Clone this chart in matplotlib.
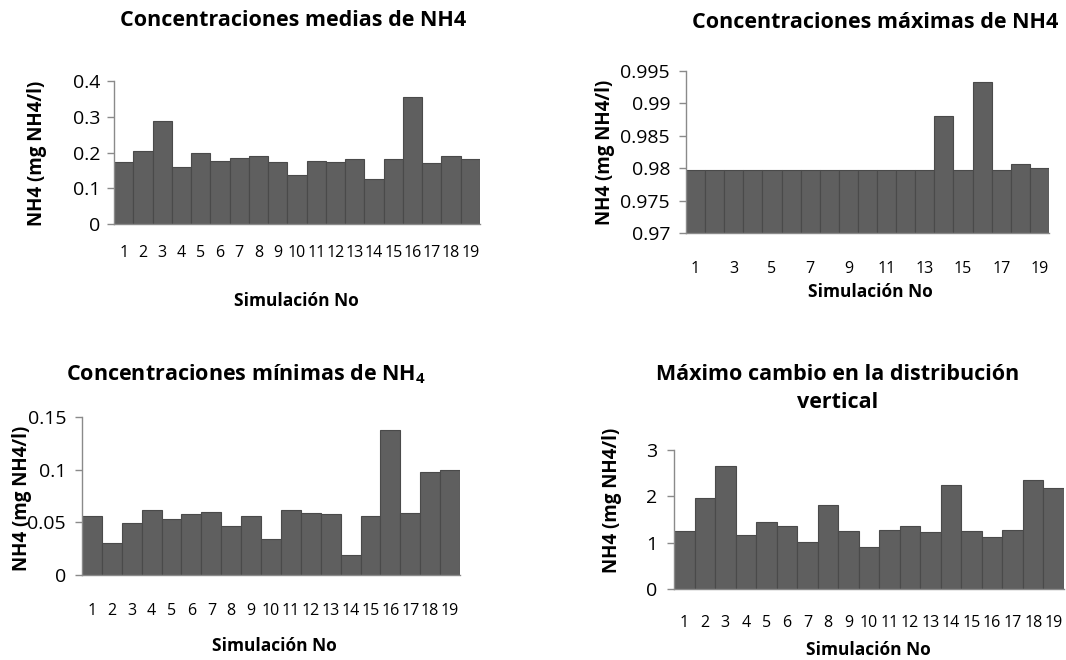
import numpy as np
import matplotlib
matplotlib.use("Agg")
import matplotlib.pyplot as plt
from matplotlib.ticker import FuncFormatter

plt.rcParams['font.family'] = ['Open Sans', 'DejaVu Sans']
plt.rcParams['mathtext.fontset'] = 'custom'
plt.rcParams['mathtext.bf'] = 'Open Sans:bold'
plt.rcParams['mathtext.rm'] = 'Open Sans:bold'

# ------------------------------------------------------------
# data
# ------------------------------------------------------------
sim_no = list(range(1, 20))

nh4_medias = [0.174, 0.204, 0.289, 0.159, 0.199, 0.177, 0.184, 0.191, 0.174, 0.136,
              0.175, 0.174, 0.181, 0.125, 0.181, 0.354, 0.172, 0.191, 0.183]

nh4_maximas = [0.9797, 0.9797, 0.9797, 0.9797, 0.9797, 0.9797, 0.9797, 0.9797, 0.9797, 0.9797,
               0.9797, 0.9797, 0.9797, 0.9881, 0.9797, 0.9933, 0.9797, 0.9807, 0.9801]

nh4_minimas = [0.0556, 0.0306, 0.049, 0.0613, 0.053, 0.0575, 0.0594, 0.0464, 0.0556, 0.0341,
               0.0619, 0.0584, 0.0581, 0.0193, 0.0556, 0.138, 0.0584, 0.0979, 0.0998]

cambio_vertical = [1.25, 1.97, 2.65, 1.16, 1.45, 1.37, 1.02, 1.81, 1.25, 0.91,
                   1.28, 1.35, 1.24, 2.24, 1.25, 1.13, 1.27, 2.35, 2.17]

W, H = 1066, 660
BAR = "#5f5f5f"
EDGE = "#4a4a4a"
SPINE = "#8a8a8a"


def px_rect(left, right, top, bottom):
    """pixel box -> figure fraction rect"""
    return [left / W, 1 - bottom / H, (right - left) / W, (bottom - top) / H]


def ftext(fig, x, y, s, **kw):
    fig.text(x / W, 1 - y / H, s, ha="center", va="center", **kw)


def bar_panel(ax, values, yticks, bottom=0.0, xpad=20, ypad=6.5, odd_only=False):
    ax.bar(sim_no, np.array(values) - bottom, bottom=bottom, width=1.0,
           color=BAR, edgecolor=EDGE, linewidth=0.8, zorder=2)
    ax.set_xlim(0.5, 19.5)
    ax.set_ylim(yticks[0], yticks[-1])
    ax.set_yticks(yticks)
    ax.yaxis.set_major_formatter(FuncFormatter(lambda v, p: "%g" % round(v, 4)))
    ax.set_xticks(sim_no)
    if odd_only:
        ax.set_xticklabels([str(i) if i % 2 == 1 else "" for i in sim_no])
    ax.tick_params(axis="x", length=0, pad=xpad, labelsize=11.5)
    ax.tick_params(axis="y", length=5, width=1, color=SPINE, pad=ypad, labelsize=14)
    for side in ("top", "right"):
        ax.spines[side].set_visible(False)
    for side in ("left", "bottom"):
        ax.spines[side].set_color(SPINE)
        ax.spines[side].set_linewidth(1.0)
        ax.spines[side].set_zorder(3)


fig = plt.figure(figsize=(W / 100, H / 100), dpi=100)

ax1 = fig.add_axes(px_rect(114, 480, 81, 224))
bar_panel(ax1, nh4_medias, [0, 0.1, 0.2, 0.3, 0.4], xpad=15, ypad=5)

ax2 = fig.add_axes(px_rect(686, 1049, 71, 233))
bar_panel(ax2, nh4_maximas, [0.97, 0.975, 0.98, 0.985, 0.99, 0.995],
          bottom=0.97, odd_only=True)

ax3 = fig.add_axes(px_rect(82, 460, 417, 575))
bar_panel(ax3, nh4_minimas, [0, 0.05, 0.1, 0.15])

ax4 = fig.add_axes(px_rect(674, 1064, 450, 589))
bar_panel(ax4, cambio_vertical, [0, 1, 2, 3], xpad=19, ypad=7)

tkw = dict(fontsize=15.5, fontweight="bold")
ftext(fig, 293, 21, "Concentraciones medias de NH4", **tkw)
ftext(fig, 875, 23, "Concentraciones máximas de NH4", **tkw)
ftext(fig, 246, 374, r"Concentraciones mínimas de NH$_\mathbf{4}$", **tkw)
ftext(fig, 838, 374, "Máximo cambio en la distribución", **tkw)
ftext(fig, 838, 403, "vertical", **tkw)

lkw = dict(fontsize=12.5, fontweight="bold")
ftext(fig, 296, 301, "Simulación No", **lkw)
ftext(fig, 870, 292, "Simulación No", **lkw)
ftext(fig, 274, 646, "Simulación No", **lkw)
ftext(fig, 868, 650, "Simulación No", **lkw)

ykw = dict(fontsize=13.5, fontweight="bold", rotation=90)
ftext(fig, 37, 153, "NH4 (mg NH4/l)", **ykw)
ftext(fig, 605, 152, "NH4 (mg NH4/l)", **ykw)
ftext(fig, 22, 498, "NH4 (mg NH4/l)", **ykw)
ftext(fig, 612, 500, "NH4 (mg NH4/l)", **ykw)

fig.savefig("out.png", dpi=100)
